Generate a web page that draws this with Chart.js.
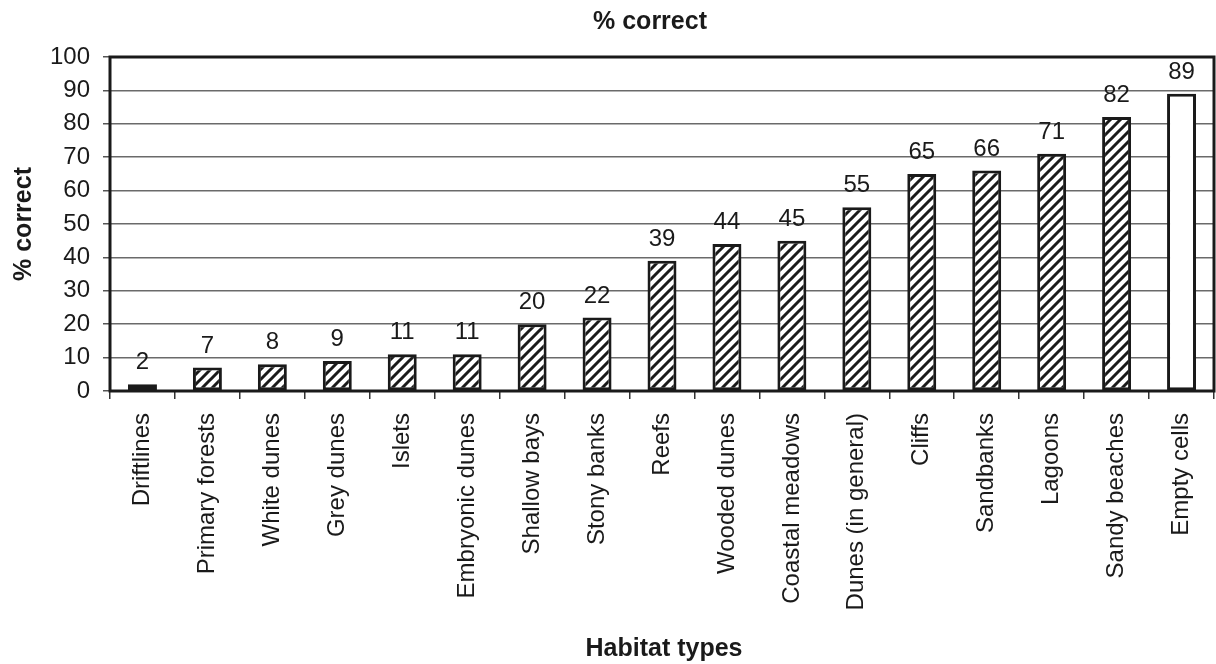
<!DOCTYPE html>
<html>
<head>
<meta charset="utf-8">
<script src="https://cdn.jsdelivr.net/npm/chart.js@4/dist/chart.umd.min.js"></script>
<style>
  html, body { margin: 0; padding: 0; background: #fff; }
  #wrap { width: 1216px; height: 664px; }
</style>
</head>
<body>
<div id="wrap"><canvas id="c" width="1216" height="664"></canvas></div>
<script>
const habitats = ["Driftlines", "Primary forests", "White dunes", "Grey dunes", "Islets",
  "Embryonic dunes", "Shallow bays", "Stony banks", "Reefs", "Wooded dunes",
  "Coastal meadows", "Dunes (in general)", "Cliffs", "Sandbanks", "Lagoons",
  "Sandy beaches", "Empty cells"];
const percentCorrect = [2, 7, 8, 9, 11, 11, 20, 22, 39, 44, 45, 55, 65, 66, 71, 82, 89];
const plainBars = ["Empty cells"];
const yTicks = [0, 10, 20, 30, 40, 50, 60, 70, 80, 90, 100];

const chartTitle = "% correct";
const yTitle = "% correct";
const xTitle = "Habitat types";

const FONT = "'Liberation Sans', Arial, sans-serif";
const INK = '#1a1a1a';

// diagonal "/" hatch fill for bars
function makeHatch(ctx) {
  const s = 10;
  const p = document.createElement('canvas');
  p.width = s; p.height = s;
  const g = p.getContext('2d');
  g.fillStyle = '#fff';
  g.fillRect(0, 0, s, s);
  g.strokeStyle = INK;
  g.lineWidth = 3;
  g.beginPath();
  g.moveTo(-3, s + 3); g.lineTo(s + 3, -3);
  g.moveTo(-3, 3); g.lineTo(3, -3);
  g.moveTo(s - 3, s + 3); g.lineTo(s + 3, s - 3);
  g.stroke();
  return ctx.createPattern(p, 'repeat');
}
const ctx0 = document.getElementById('c').getContext('2d');
const hatch = makeHatch(ctx0);
const fills = habitats.map(h => plainBars.includes(h) ? '#fff' : hatch);

// value above every bar
const valueLabels = {
  id: 'valueLabels',
  afterDatasetsDraw(chart) {
    const ctx = chart.ctx;
    const meta = chart.getDatasetMeta(0);
    ctx.save();
    ctx.font = `24px ${FONT}`;
    ctx.fillStyle = INK;
    ctx.textAlign = 'center';
    ctx.textBaseline = 'alphabetic';
    meta.data.forEach((bar, i) => {
      ctx.fillText(String(percentCorrect[i]), bar.x, bar.y - 15);
    });
    ctx.restore();
  }
};

// plot frame plus the three titles
const frameAndTitles = {
  id: 'frameAndTitles',
  afterDraw(chart) {
    const a = chart.chartArea;
    const ctx = chart.ctx;
    ctx.save();
    ctx.strokeStyle = INK;
    ctx.lineWidth = 3;
    ctx.strokeRect(a.left, a.top, a.right - a.left, a.bottom - a.top);

    ctx.fillStyle = INK;
    ctx.font = `bold 25px ${FONT}`;
    ctx.textAlign = 'center';
    ctx.textBaseline = 'alphabetic';
    ctx.fillText(chartTitle, 650, 29);
    ctx.fillText(xTitle, 664, 656);

    ctx.translate(31, (a.top + a.bottom) / 2);
    ctx.rotate(-Math.PI / 2);
    ctx.fillText(yTitle, 0, 0);
    ctx.restore();
  }
};

new Chart(ctx0, {
  type: 'bar',
  data: {
    labels: habitats,
    datasets: [{
      data: percentCorrect,
      backgroundColor: fills,
      borderColor: INK,
      borderWidth: 3,
      borderSkipped: false,
      categoryPercentage: 1,
      barPercentage: 0.446
    }]
  },
  options: {
    responsive: false,
    animation: false,
    devicePixelRatio: 1,
    layout: { padding: { top: 57, right: 2, bottom: 0, left: 0 } },
    plugins: {
      legend: { display: false },
      tooltip: { enabled: false },
      title: { display: false }
    },
    scales: {
      x: {
        grid: {
          offset: true,
          drawOnChartArea: false,
          drawTicks: true,
          tickLength: 8,
          color: '#333',
          lineWidth: 1.5
        },
        border: { display: false },
        ticks: {
          color: INK,
          font: { family: FONT, size: 24 },
          minRotation: 90,
          maxRotation: 90,
          autoSkip: false,
          padding: 14
        },
        afterFit(scale) {
          scale.height = 273;
          scale.paddingLeft = 0;
          scale.paddingRight = 0;
        }
      },
      y: {
        min: 0,
        max: 100,
        afterBuildTicks(scale) { scale.ticks = yTicks.map(v => ({ value: v })); },
        grid: {
          color: '#6a6a6a',
          lineWidth: 1.5,
          tickLength: 7,
          tickColor: '#555'
        },
        border: { display: false },
        ticks: {
          color: INK,
          font: { family: FONT, size: 24 },
          padding: 13
        },
        afterFit(scale) {
          scale.width = 110;
          scale.paddingTop = 0;
          scale.paddingBottom = 0;
        }
      }
    }
  },
  plugins: [valueLabels, frameAndTitles]
});
</script>
</body>
</html>
